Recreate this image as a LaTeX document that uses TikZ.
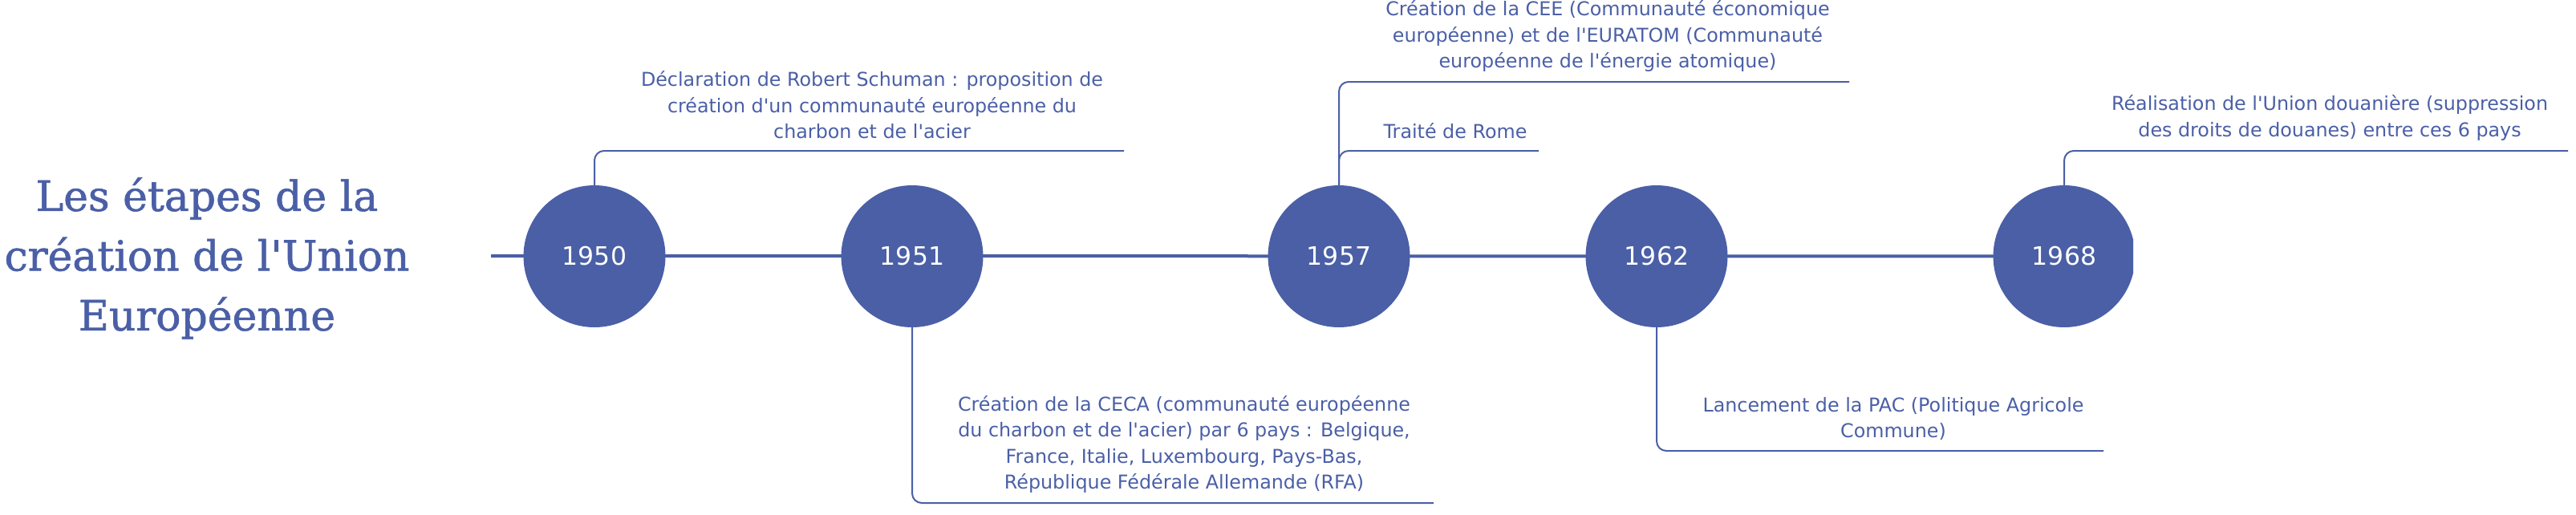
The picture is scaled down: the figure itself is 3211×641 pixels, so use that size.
\documentclass[tikz,border=0pt]{standalone}
\usepackage{fontspec}
\setmainfont{DejaVu Sans}
\newfontfamily\titlefont[FakeBold=1.2]{DejaVu Serif}
\usetikzlibrary{backgrounds}
\definecolor{eublue}{HTML}{4A5FA6}
\newcommand{\ap}{\textquotesingle}
\begin{document}
\begin{tikzpicture}[x=1pt,y=-1pt,
  year/.style={circle,fill=eublue,draw=none,minimum size=177pt,inner sep=0pt,text=white,font=\fontsize{31.5}{36}\selectfont},
  event/.style={text=eublue,align=center,font=\fontsize{23.8}{32.5}\selectfont,inner sep=0pt},
  titlestyle/.style={text=eublue,align=center,font=\titlefont\fontsize{52}{74.5}\selectfont,inner sep=0pt},
  link/.style={draw=eublue,line width=2pt,rounded corners=12pt},
  axis/.style={draw=eublue,line width=4pt}]
\useasboundingbox (0,0) rectangle (3211,641);

% title
\node[titlestyle] (title) at (258,322) {Les étapes de la\\création de l\ap Union\\Européenne};

% year circles
\node[year] (y1950) at (741,319.5) {1950};
\node[year] (y1951) at (1137,319.5) {1951};
\node[year] (y1957) at (1669,319.5) {1957};
\node[year] (y1962) at (2065,319.5) {1962};
\begin{scope}
  \clip (0,0) rectangle (2659,641);
  \node[year] (y1968) at (2573,319.5) {1968};
\end{scope}

% axis
\coordinate (axstart) at (612,319);
\begin{scope}[on background layer]
  \draw[axis] (axstart) -- (y1968.center);
\end{scope}

% connectors
\coordinate (e1950) at (1401,188);
\draw[link] (y1950.north) |- (e1950);
\coordinate (e1951) at (1787,627);
\draw[link] (y1951.south) |- (e1951);
\coordinate (e1957a) at (2305,102);
\coordinate (e1957b) at (1918,188);
\draw[link] (y1957.north) |- (e1957a);
\draw[link] (y1957.north) |- (e1957b);
\coordinate (e1962) at (2622,562);
\draw[link] (y1962.south) |- (e1962);
\coordinate (e1968) at (3201,188);
\draw[link] (y1968.north) |- (e1968);

% event texts
\node[event] (t1950) at (1087,131) {Déclaration de Robert Schuman : proposition de\\création d\ap un communauté européenne du\\charbon et de l\ap acier};
\node[event] (t1951) at (1476,554) {Création de la CECA (communauté européenne\\du charbon et de l\ap acier) par 6 pays : Belgique,\\France, Italie, Luxembourg, Pays-Bas,\\République Fédérale Allemande (RFA)};
\node[event] (t1957a) at (2004,45) {Création de la CEE (Communauté économique\\européenne) et de l\ap EURATOM (Communauté\\européenne de l\ap énergie atomique)};
\node[event] (t1957b) at (1814,163) {Traité de Rome};
\node[event] (t1962) at (2360,522) {Lancement de la PAC (Politique Agricole\\Commune)};
\node[event] (t1968) at (2904,147) {Réalisation de l\ap Union douanière (suppression\\des droits de douanes) entre ces 6 pays};
\end{tikzpicture}
\end{document}
